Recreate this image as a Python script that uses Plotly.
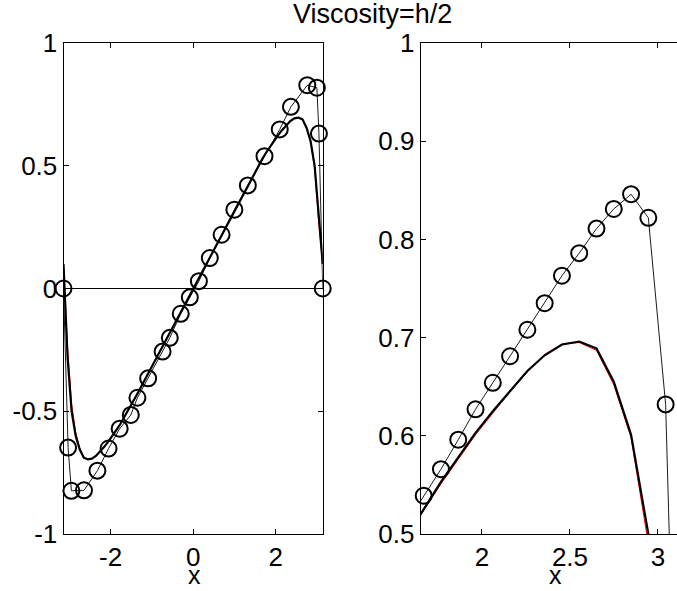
import plotly.graph_objects as go

# ---------------- data ----------------
grid_x = [-3.1416, -3.0434, -2.9452, -2.8471, -2.7489, -2.6507, -2.5525, -2.4544, -2.3562, -2.2580,
          -2.1598, -2.0617, -1.9635, -1.8653, -1.7671, -1.6690, -1.5708, -1.4726, -1.3744, -1.2763,
          -1.1781, -1.0799, -0.9817, -0.8836, -0.7854, -0.6872, -0.5890, -0.4909, -0.3927, -0.2945,
          -0.1963, -0.0982, 0.0, 0.0982, 0.1963, 0.2945, 0.3927, 0.4909, 0.5890, 0.6872,
          0.7854, 0.8836, 0.9817, 1.0799, 1.1781, 1.2763, 1.3744, 1.4726, 1.5708, 1.6690,
          1.7671, 1.8653, 1.9635, 2.0617, 2.1598, 2.2580, 2.3562, 2.4544, 2.5525, 2.6507,
          2.7489, 2.8471, 2.9452, 3.0434, 3.1416]

numerical_u = [0.10, -0.28, -0.50, -0.60, -0.655, -0.689, -0.696, -0.693, -0.682, -0.666,
               -0.646, -0.625, -0.603, -0.578, -0.553, -0.525, -0.497, -0.467, -0.436, -0.405,
               -0.374, -0.343, -0.312, -0.281, -0.250, -0.219, -0.187, -0.156, -0.125, -0.094,
               -0.062, -0.031, 0.0, 0.031, 0.062, 0.094, 0.125, 0.156, 0.187, 0.219,
               0.250, 0.281, 0.312, 0.343, 0.374, 0.405, 0.436, 0.467, 0.497, 0.525,
               0.553, 0.578, 0.603, 0.625, 0.646, 0.666, 0.682, 0.693, 0.696, 0.689,
               0.655, 0.601, 0.50, 0.30, 0.10]

exact_u = [0.10, -0.24, -0.47, -0.585, -0.650, -0.686, -0.695, -0.693, -0.683, -0.665,
           -0.645, -0.623, -0.601, -0.576, -0.551, -0.524, -0.497, -0.467, -0.436, -0.405,
           -0.374, -0.343, -0.312, -0.281, -0.250, -0.219, -0.187, -0.156, -0.125, -0.094,
           -0.062, -0.031, 0.0, 0.031, 0.062, 0.094, 0.125, 0.156, 0.187, 0.219,
           0.250, 0.281, 0.312, 0.343, 0.374, 0.405, 0.436, 0.467, 0.497, 0.524,
           0.551, 0.576, 0.601, 0.623, 0.645, 0.665, 0.683, 0.693, 0.695, 0.687,
           0.652, 0.598, 0.49, 0.27, 0.10]

# circles shown in the full-domain panel
left_circle_x = [-3.1416, -3.03, -2.95, -2.645, -2.32, -2.05, -1.78, -1.51, -1.35, -1.09,
                 -0.74, -0.565, -0.30, -0.08, 0.14, 0.405, 0.69, 1.0, 1.326, 1.73,
                 2.10, 2.37, 2.767, 3.00, 3.05, 3.1416]
left_circle_y = [0.0, -0.648, -0.824, -0.822, -0.742, -0.652, -0.571, -0.515, -0.445, -0.366,
                 -0.257, -0.201, -0.103, -0.036, 0.03, 0.124, 0.219, 0.321, 0.42, 0.539,
                 0.648, 0.74, 0.828, 0.818, 0.631, 0.0]

# circles shown in the zoomed panel
right_circle_x = [1.5708, 1.6690, 1.7671, 1.8653, 1.9635, 2.0617, 2.1598, 2.2580, 2.3562,
                  2.4544, 2.5525, 2.6507, 2.7489, 2.8471, 2.9452, 3.0434, 3.1416]
right_circle_y = [0.511, 0.539, 0.566, 0.596, 0.627, 0.654, 0.681, 0.708, 0.735,
                  0.763, 0.786, 0.811, 0.831, 0.846, 0.822, 0.632, 0.0]

left_xticks = [-2, 0, 2]
left_xticklabels = ["-2", "0", "2"]
left_yticks = [-1, -0.5, 0, 0.5, 1]
left_yticklabels = ["-1", "-0.5", "0", "0.5", "1"]
right_xticks = [2, 2.5, 3]
right_xticklabels = ["2", "2.5", "3"]
right_yticks = [0.5, 0.6, 0.7, 0.8, 0.9, 1.0]
right_yticklabels = ["0.5", "0.6", "0.7", "0.8", "0.9", "1"]

title_text = "Viscosity=h/2"
x_label = "x"

# ---------------- figure ----------------
FONT = "Liberation Sans, Arial, sans-serif"
TICK_SIZE = 26
RIGHT_XMIN = 1.652
RIGHT_XMAX = 3.1416
fig = go.Figure()

for xa, ya in (("x", "y"), ("x2", "y2")):
    fig.add_trace(go.Scatter(x=grid_x, y=exact_u, mode="lines", xaxis=xa, yaxis=ya,
                             line=dict(color="red", width=1), showlegend=False, hoverinfo="skip"))
    fig.add_trace(go.Scatter(x=grid_x, y=numerical_u, mode="lines", xaxis=xa, yaxis=ya,
                             line=dict(color="black", width=2.2), showlegend=False, hoverinfo="skip"))

# left circles
fig.add_trace(go.Scatter(x=left_circle_x, y=left_circle_y, mode="lines", xaxis="x", yaxis="y",
                         line=dict(color="black", width=0.9), showlegend=False))
fig.add_trace(go.Scatter(x=left_circle_x, y=left_circle_y, mode="markers", xaxis="x", yaxis="y",
                         cliponaxis=False,
                         marker=dict(symbol="circle-open", size=16, color="black",
                                     line=dict(color="black", width=2)), showlegend=False))
# right circles
fig.add_trace(go.Scatter(x=right_circle_x, y=right_circle_y, mode="lines", xaxis="x2", yaxis="y2",
                         line=dict(color="black", width=0.9), showlegend=False))
rx = [x for x, y in zip(right_circle_x, right_circle_y) if RIGHT_XMIN <= x < RIGHT_XMAX and y >= 0.5]
ry = [y for x, y in zip(right_circle_x, right_circle_y) if RIGHT_XMIN <= x < RIGHT_XMAX and y >= 0.5]
fig.add_trace(go.Scatter(x=rx, y=ry, mode="markers", xaxis="x2", yaxis="y2",
                         cliponaxis=False,
                         marker=dict(symbol="circle-open", size=16, color="black",
                                     line=dict(color="black", width=2)), showlegend=False))

axis_common = dict(showline=True, linecolor="black", linewidth=1, ticks="inside", ticklen=5,
                   tickcolor="black", showgrid=False, automargin=False,
                   tickfont=dict(family=FONT, size=TICK_SIZE, color="black"))

fig.update_layout(
    width=677, height=591, autosize=False,
    margin=dict(l=0, r=0, t=43, b=57),
    paper_bgcolor="white", plot_bgcolor="white",
    font=dict(family=FONT, size=TICK_SIZE, color="black"),
    xaxis=dict(domain=[0.0938, 0.4767], range=[-3.1416, 3.1416], anchor="y",
               tickvals=left_xticks, ticktext=left_xticklabels, mirror="ticks",
               zeroline=False, **axis_common),
    yaxis=dict(domain=[0, 1], range=[-1, 1], anchor="x",
               tickvals=left_yticks, ticktext=left_yticklabels, mirror="ticks",
               zeroline=True, zerolinecolor="black", zerolinewidth=1, **axis_common),
    xaxis2=dict(domain=[0.6214, 1.0], range=[RIGHT_XMIN, 3.108], anchor="y2",
                tickvals=right_xticks, ticktext=right_xticklabels, mirror="ticks",
                zeroline=False, **axis_common),
    yaxis2=dict(domain=[0, 1], range=[0.5, 1.0], anchor="x2",
                tickvals=right_yticks, ticktext=right_yticklabels, mirror=False,
                zeroline=False, **axis_common),
    annotations=[
        dict(text=title_text, xref="paper", yref="paper", x=0.5495, y=1.059,
             xanchor="center", yanchor="middle", showarrow=False,
             font=dict(family=FONT, size=27, color="black")),
        dict(text=x_label, xref="paper", yref="paper", x=0.288, y=-0.0835,
             xanchor="center", yanchor="middle", showarrow=False,
             font=dict(family=FONT, size=25, color="black")),
        dict(text=x_label, xref="paper", yref="paper", x=0.8198, y=-0.0835,
             xanchor="center", yanchor="middle", showarrow=False,
             font=dict(family=FONT, size=25, color="black")),
    ],
)

fig.write_html("out.html",
               config={"displayModeBar": False, "staticPlot": True},
               post_script="document.body.style.margin='0';document.body.style.overflow='hidden';")
